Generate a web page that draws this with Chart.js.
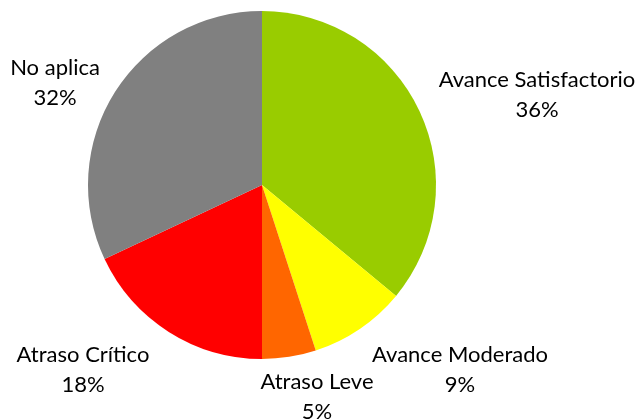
<!DOCTYPE html>
<html>
<head>
<meta charset="utf-8">
<script src="https://cdn.jsdelivr.net/npm/chart.js@4.4.1/dist/chart.umd.min.js"></script>
<style>
    html, body { margin: 0; padding: 0; background: #ffffff; }
    #wrap { width: 639px; height: 420px; position: relative; }
</style>
</head>
<body>
<div id="wrap"><canvas id="pieChart"></canvas></div>
<script>

const categories = ["Avance Satisfactorio", "Avance Moderado", "Atraso Leve", "Atraso Crítico", "No aplica"];
const percents = [36, 9, 5, 18, 32];
const sliceColors = ["#99cc00", "#ffff00", "#ff6600", "#ff0000", "#808080"];

// label block centre, relative to the pie centre
const labelOffsets = [
    { dx: 275, dy: -90 },
    { dx: 198, dy: 185 },
    { dx: 55, dy: 212 },
    { dx: -179, dy: 185 },
    { dx: -207, dy: -102 }
];

const outsideLabels = {
    id: "outsideLabels",
    afterDraw(chart) {
        const ctx = chart.ctx;
        const meta = chart.getDatasetMeta(0);
        ctx.save();
        ctx.font = "22px Lato";
        ctx.fillStyle = "#000000";
        ctx.textAlign = "center";
        ctx.textBaseline = "middle";
        meta.data.forEach((arc, i) => {
            const x = arc.x + labelOffsets[i].dx;
            const y = arc.y + labelOffsets[i].dy;
            ctx.fillText(categories[i], x, y - 15);
            ctx.fillText(percents[i] + "%", x, y + 15);
        });
        ctx.restore();
    }
};

new Chart(document.getElementById("pieChart"), {

    type: "pie",

    data: {
        labels: categories,
        datasets: [
            {
                data: percents,
                backgroundColor: sliceColors,
                borderWidth: 0
            }
        ]
    },

    options: {
        responsive: true,
        maintainAspectRatio: false,
        animation: false,
        layout: { padding: { left: 88, right: 203, top: 11, bottom: 61 } },
        plugins: {
            legend: { display: false },
            tooltip: { enabled: false }
        }
    },

    plugins: [outsideLabels]

});

</script>
</body>
</html>
